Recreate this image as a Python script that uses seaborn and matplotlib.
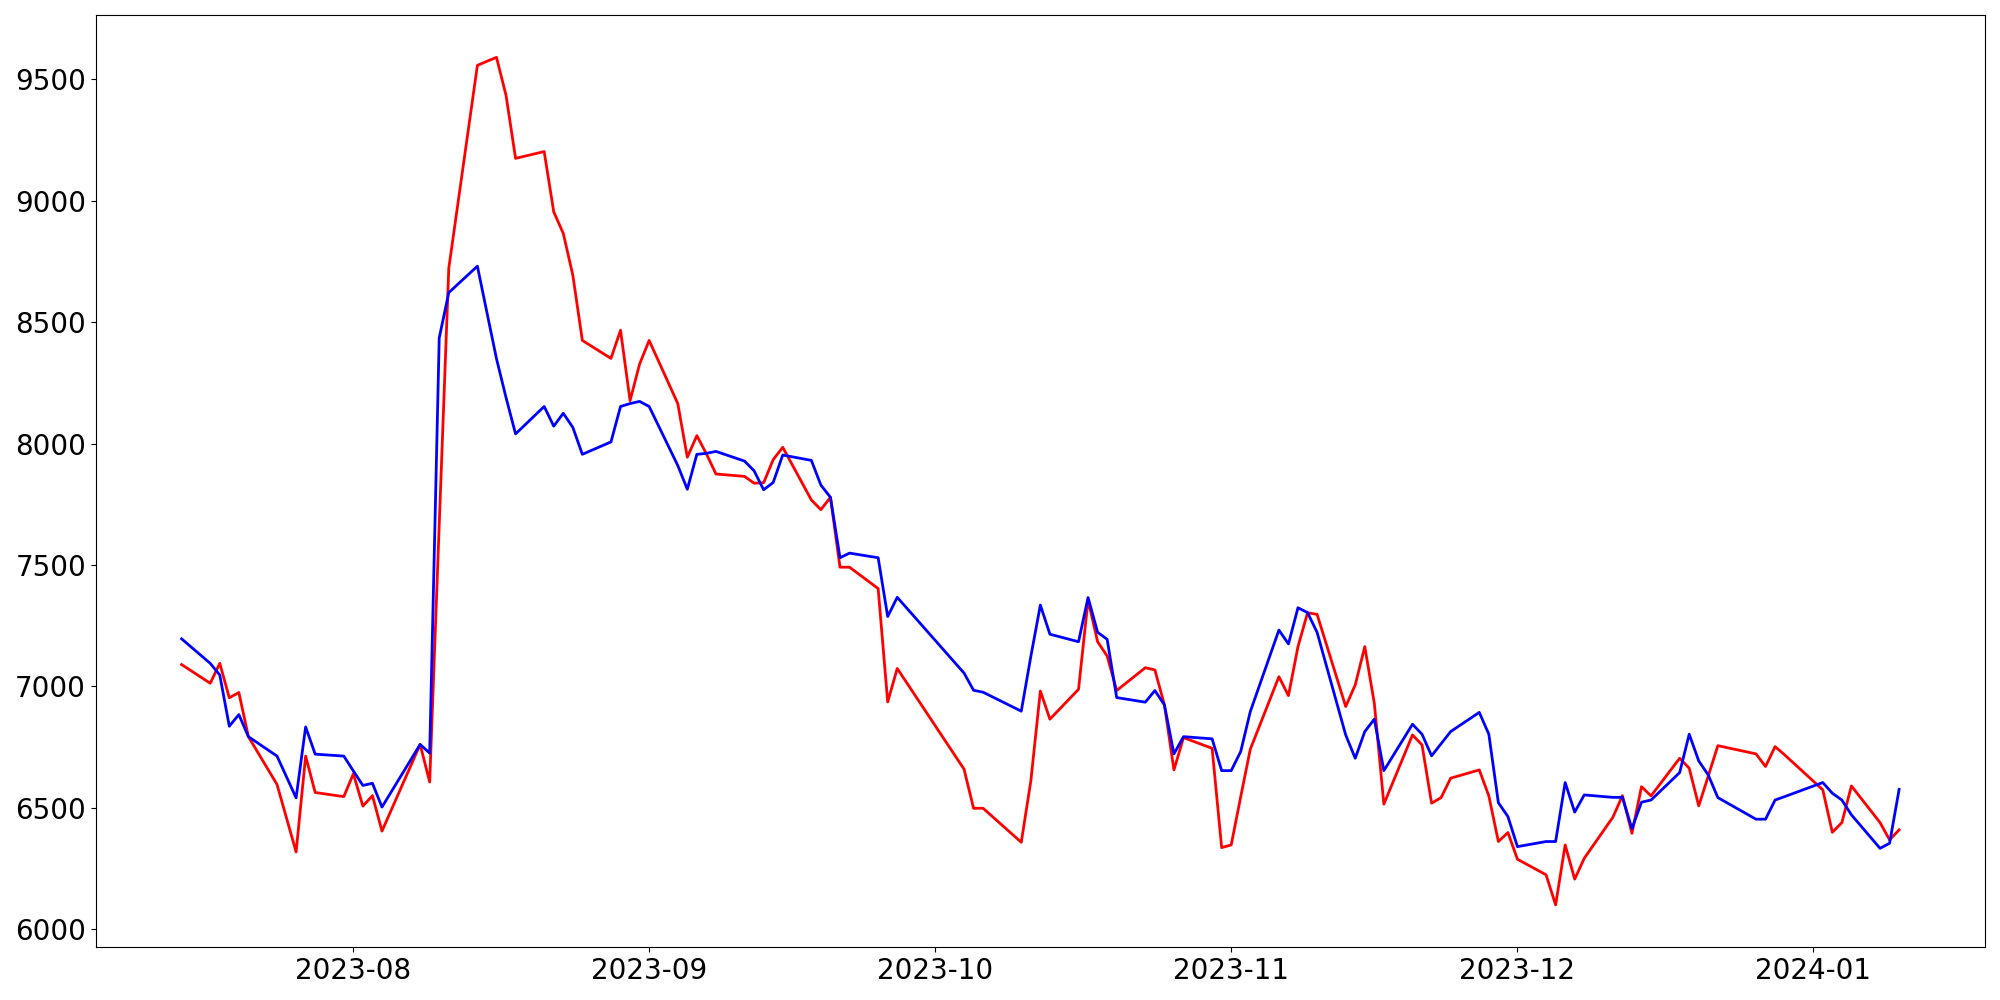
import matplotlib
matplotlib.use("Agg")
import matplotlib.pyplot as plt
import seaborn as sns
import pandas as pd

dates = [
    "2023-07-14", "2023-07-17", "2023-07-18", "2023-07-19", "2023-07-20", "2023-07-21",
    "2023-07-24", "2023-07-26", "2023-07-27", "2023-07-28", "2023-07-31",
    "2023-08-01", "2023-08-02", "2023-08-03", "2023-08-04", "2023-08-08", "2023-08-09",
    "2023-08-10", "2023-08-11", "2023-08-14", "2023-08-15", "2023-08-16", "2023-08-17",
    "2023-08-18", "2023-08-21", "2023-08-22", "2023-08-23", "2023-08-24", "2023-08-25",
    "2023-08-28", "2023-08-29", "2023-08-30", "2023-08-31",
    "2023-09-01", "2023-09-04", "2023-09-05", "2023-09-06", "2023-09-07", "2023-09-08",
    "2023-09-11", "2023-09-12", "2023-09-13", "2023-09-14", "2023-09-15", "2023-09-18",
    "2023-09-19", "2023-09-20", "2023-09-21", "2023-09-22", "2023-09-25", "2023-09-26",
    "2023-09-27",
    "2023-10-04", "2023-10-05", "2023-10-06", "2023-10-10", "2023-10-11", "2023-10-12",
    "2023-10-13", "2023-10-16", "2023-10-17", "2023-10-18", "2023-10-19", "2023-10-20",
    "2023-10-23", "2023-10-24", "2023-10-25", "2023-10-26", "2023-10-27", "2023-10-30",
    "2023-10-31",
    "2023-11-01", "2023-11-02", "2023-11-03", "2023-11-06", "2023-11-07", "2023-11-08",
    "2023-11-09", "2023-11-10", "2023-11-13", "2023-11-14", "2023-11-15", "2023-11-16",
    "2023-11-17", "2023-11-20", "2023-11-21", "2023-11-22", "2023-11-23", "2023-11-24",
    "2023-11-27", "2023-11-28", "2023-11-29", "2023-11-30",
    "2023-12-01", "2023-12-04", "2023-12-05", "2023-12-06", "2023-12-07", "2023-12-08",
    "2023-12-11", "2023-12-12", "2023-12-13", "2023-12-14", "2023-12-15", "2023-12-18",
    "2023-12-19", "2023-12-20", "2023-12-21", "2023-12-22", "2023-12-26", "2023-12-27",
    "2023-12-28", "2023-12-29",
    "2024-01-02", "2024-01-03", "2024-01-04", "2024-01-05", "2024-01-08", "2024-01-09",
    "2024-01-10",
]

red_values = [
    7090, 7013, 7095, 6953, 6975, 6793,
    6596, 6318, 6713, 6563, 6546,
    6640, 6507, 6550, 6404, 6761, 6606,
    7666, 8722, 9558, 9575, 9591, 9435,
    9175, 9203, 8955, 8866, 8694, 8425,
    8351, 8467, 8177, 8328,
    8425, 8165, 7944, 8033, 7958, 7875,
    7865, 7837, 7839, 7934, 7985, 7768,
    7728, 7779, 7491, 7491, 7403, 6936,
    7074,
    6659, 6498, 6498, 6358, 6610, 6981,
    6865, 6988, 7356, 7184, 7125, 6983,
    7077, 7068, 6924, 6656, 6789, 6745,
    6336,
    6347, 6546, 6741, 7040, 6962, 7164,
    7303, 7297, 6917, 7006, 7164, 6930,
    6515, 6800, 6759, 6519, 6542, 6622,
    6656, 6549, 6361, 6398,
    6288, 6224, 6100, 6347, 6206, 6292,
    6461, 6550, 6395, 6587, 6549, 6704,
    6663, 6508, 6631, 6756, 6722, 6670,
    6752, 6718,
    6574, 6399, 6439, 6590, 6439, 6368,
    6409,
]

blue_values = [
    7196, 7095, 7047, 6836, 6884, 6793,
    6713, 6541, 6833, 6721, 6713,
    6652, 6592, 6601, 6503, 6761, 6725,
    8435, 8622, 8731, 8540, 8350, 8190,
    8040, 8153, 8072, 8125, 8067, 7956,
    8007, 8153, 8165, 8174,
    8153, 7910, 7812, 7956, 7960, 7968,
    7928, 7888, 7810, 7840, 7953, 7931,
    7829, 7779, 7530, 7549, 7530, 7288,
    7367,
    7055, 6984, 6976, 6898, 7123, 7335,
    7215, 7184, 7366, 7223, 7194, 6954,
    6935, 6983, 6924, 6722, 6793, 6784,
    6653,
    6653, 6732, 6896, 7232, 7175, 7324,
    7304, 7223, 6800, 6704, 6814, 6865,
    6653, 6844, 6803, 6714, 6764, 6814,
    6893, 6803, 6521, 6464,
    6340, 6361, 6361, 6604, 6482, 6553,
    6543, 6543, 6414, 6523, 6532, 6645,
    6803, 6693, 6635, 6542, 6453, 6453,
    6532, 6546,
    6604, 6560, 6532, 6471, 6333, 6354,
    6576,
]

df = pd.DataFrame({
    "date": pd.to_datetime(dates),
    "red": red_values,
    "blue": blue_values,
})

fig, ax = plt.subplots(figsize=(20, 10), dpi=100)
sns.lineplot(data=df, x="date", y="red", color="red", linewidth=2, ax=ax, legend=False)
sns.lineplot(data=df, x="date", y="blue", color="blue", linewidth=2, ax=ax, legend=False)
ax.set_xlabel("")
ax.set_ylabel("")
ax.tick_params(labelsize=20)
fig.tight_layout()
fig.savefig("out.png", dpi=100)
